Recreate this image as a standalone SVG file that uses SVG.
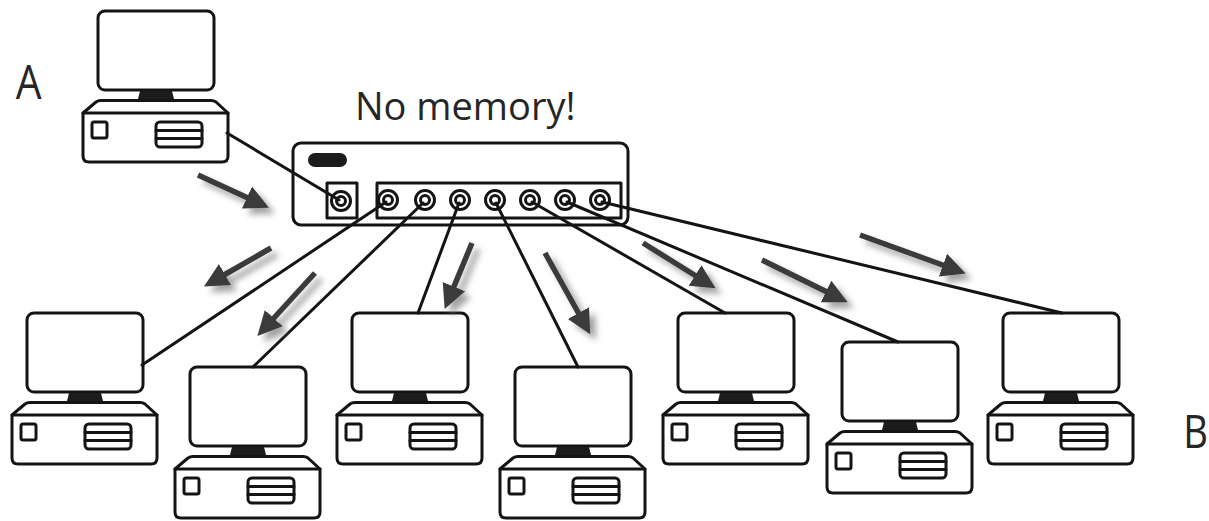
<svg xmlns="http://www.w3.org/2000/svg" xmlns:xlink="http://www.w3.org/1999/xlink" width="1209" height="521" viewBox="0 0 1209 521">
  <style>
    .ln { fill: none; stroke: #141414; stroke-width: 3; stroke-linecap: round; stroke-linejoin: round; }
    .box { fill: #ffffff; stroke: #141414; stroke-width: 3; stroke-linejoin: round; }
    .solid { fill: #1c1c1c; stroke: none; }
    .arrow { fill: none; stroke: #3a3a3a; stroke-width: 5.5; stroke-linecap: butt; marker-end: url(#head); }
    .label { font-family: "Open Sans", "Liberation Sans", sans-serif; fill: #262626; }
  </style>
  <defs>
    <marker id="head" viewBox="0 -2.5 5 5" refX="0.2" refY="0" markerWidth="5" markerHeight="5" markerUnits="strokeWidth" orient="auto">
      <path d="M0,-2.2 L4.4,0 L0,2.2 z" fill="#3a3a3a"/>
    </marker>
    <filter id="shadow" x="-30%" y="-30%" width="160%" height="160%">
      <feDropShadow dx="6" dy="6" stdDeviation="3" flood-color="#7a7a7a" flood-opacity="0.7"/>
    </filter>
    <!-- desktop computer: monitor, stand and base unit; origin = monitor top-left -->
    <g id="pc">
      <rect class="box" x="0" y="0" width="116" height="79" rx="7"/>
      <polygon class="solid" points="42,80 74,80 77,92 39,92"/>
      <path class="box" d="M-15,102 L-2,91 Q0,89.5 3,89.5 L113,89.5 Q116,89.5 118,91 L130,102 L130,145 Q130,151 124,151 L-9,151 Q-15,151 -15,145 Z"/>
      <line class="ln" x1="-15" y1="102" x2="130" y2="102"/>
      <rect class="box" x="-6" y="111" width="15" height="16" rx="2"/>
      <rect class="box" x="58" y="111" width="46" height="25" rx="4"/>
      <line class="ln" x1="58" y1="119.5" x2="104" y2="119.5"/>
      <line class="ln" x1="58" y1="127.5" x2="104" y2="127.5"/>
    </g>
  </defs>

  <rect x="0" y="0" width="1209" height="521" fill="#ffffff"/>

  <!-- computers -->
  <g id="pc-a"><use href="#pc" x="98" y="11"/></g>
  <g id="pc-1"><use href="#pc" x="27" y="313"/></g>
  <g id="pc-2"><use href="#pc" x="190" y="367"/></g>
  <g id="pc-3"><use href="#pc" x="352" y="313"/></g>
  <g id="pc-4"><use href="#pc" x="515" y="367"/></g>
  <g id="pc-5"><use href="#pc" x="678" y="313"/></g>
  <g id="pc-6"><use href="#pc" x="842" y="342"/></g>
  <g id="pc-b"><use href="#pc" x="1003" y="313"/></g>

  <!-- hub -->
  <g id="hub">
    <rect class="box" x="293" y="143" width="335" height="82" rx="8"/>
    <rect class="solid" x="308" y="153" width="39" height="14" rx="7"/>
    <rect class="box" x="327" y="183" width="30" height="35"/>
    <rect class="box" x="377" y="183" width="244" height="35"/>
    <g fill="none" stroke="#141414" stroke-width="3">
      <circle cx="341" cy="201" r="9.5"/><circle cx="341" cy="201" r="4.5"/>
      <circle cx="388" cy="200" r="9.5"/><circle cx="388" cy="200" r="4.5"/>
      <circle cx="425" cy="200" r="9.5"/><circle cx="425" cy="200" r="4.5"/>
      <circle cx="460" cy="200" r="9.5"/><circle cx="460" cy="200" r="4.5"/>
      <circle cx="495" cy="200" r="9.5"/><circle cx="495" cy="200" r="4.5"/>
      <circle cx="530" cy="200" r="9.5"/><circle cx="530" cy="200" r="4.5"/>
      <circle cx="565" cy="200" r="9.5"/><circle cx="565" cy="200" r="4.5"/>
      <circle cx="600" cy="200" r="9.5"/><circle cx="600" cy="200" r="4.5"/>
    </g>
  </g>

  <!-- cables -->
  <g id="connectors" class="ln">
    <line x1="227" y1="133" x2="339" y2="200"/>
    <line x1="386" y1="202" x2="142" y2="365"/>
    <line x1="423" y1="203" x2="253" y2="367"/>
    <line x1="459" y1="203" x2="418" y2="313"/>
    <line x1="496" y1="203" x2="578" y2="367"/>
    <line x1="532" y1="202" x2="725" y2="313"/>
    <line x1="567" y1="202" x2="898" y2="342"/>
    <line x1="602" y1="202" x2="1062" y2="313"/>
  </g>

  <!-- traffic direction arrows -->
  <g id="arrows" filter="url(#shadow)">
    <line class="arrow" x1="198" y1="175" x2="248" y2="198"/>
    <line class="arrow" x1="271" y1="248" x2="224" y2="275"/>
    <line class="arrow" x1="315" y1="273" x2="273" y2="319"/>
    <line class="arrow" x1="472" y1="243" x2="453.5" y2="287.6"/>
    <line class="arrow" x1="545" y1="253" x2="579" y2="314"/>
    <line class="arrow" x1="643" y1="243" x2="696" y2="276"/>
    <line class="arrow" x1="762" y1="260" x2="827" y2="292"/>
    <line class="arrow" x1="860" y1="235" x2="944" y2="265.5"/>
  </g>

  <!-- labels -->
  <g id="labels">
    <text class="label" x="355" y="120" font-size="38">No memory!</text>
    <text class="label" x="15" y="99" font-size="48" transform="translate(3 0) scale(0.85 1)">A</text>
    <text class="label" x="1392" y="448" font-size="45" transform="scale(0.85 1)">B</text>
  </g>
</svg>
